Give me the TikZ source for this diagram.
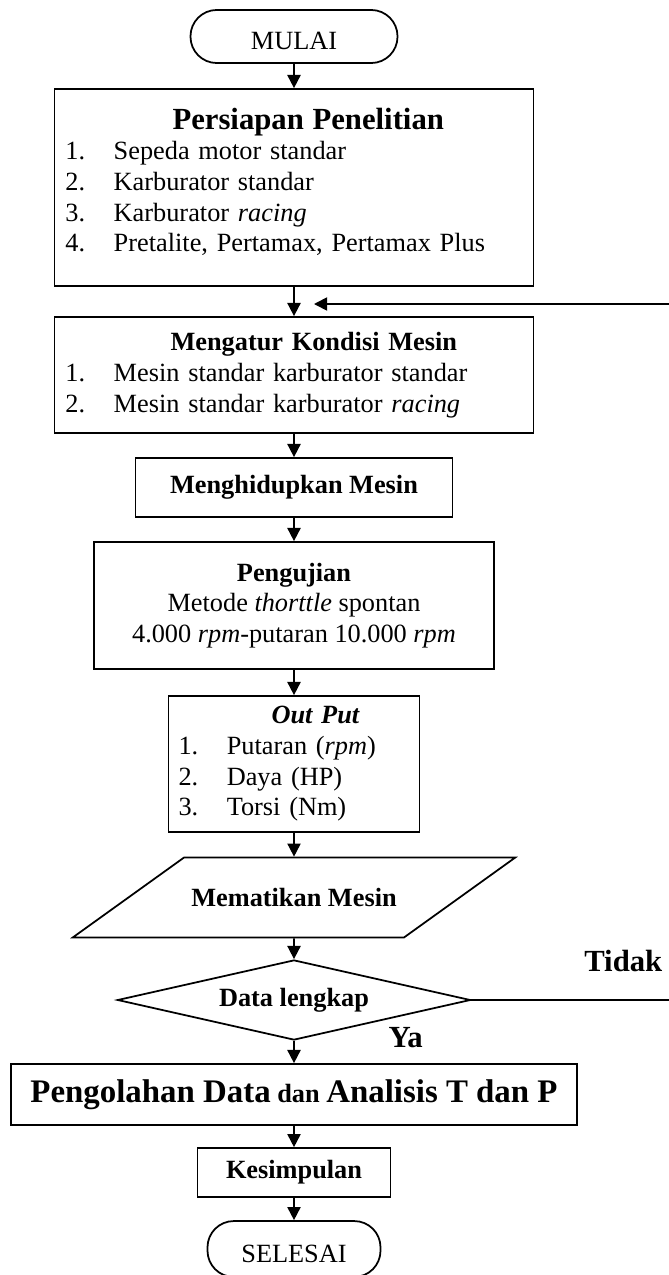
\documentclass[tikz,border=0pt]{standalone}
\usepackage{fontspec}
\setmainfont{Liberation Serif}
\usetikzlibrary{
    arrows.meta,
    shapes.geometric
}

\newcommand{\nomor}[1]{\makebox[22pt][l]{#1}}

\begin{document}
\begin{tikzpicture}[
        x=0.456pt,
        y=-0.456pt,
        font=\fontsize{12}{14}\selectfont,
        box/.style={
            rectangle,
            draw,
            line width=0.8pt,
            align=center
        },
        listbox/.style={
            rectangle,
            draw,
            line width=0.8pt,
            align=left
        },
        term/.style={
            rectangle,
            rounded corners=12pt,
            draw,
            line width=0.8pt,
            text height=12.3pt,
            text depth=0pt,
            minimum height=24.2pt
        },
        io/.style={
            trapezium,
            trapezium left angle=35.7,
            trapezium right angle=144.3,
            trapezium stretches body,
            inner ysep=14pt,
            draw,
            line width=0.8pt
        },
        decision/.style={
            diamond,
            aspect=4.4,
            inner sep=1pt,
            draw,
            line width=0.8pt
        },
        line/.style={
            -{Triangle[length=6pt, width=6pt]},
            line width=0.8pt
        },
        lbl/.style={
            font=\fontsize{14}{16}\selectfont\bfseries
        }
    ]

    \useasboundingbox (0,0) rectangle (668,1275);

    \node[term, minimum width=94.4pt] (mulai) at (294,36.5) {MULAI};

    \node[listbox, text width=208.4pt, inner xsep=5pt,
          minimum height=89.8pt] (persiapan) at (294,187.5)
        {\hspace*{48.8pt}{\fontsize{14}{16}\selectfont\bfseries Persiapan Penelitian}\\
         \nomor{1.}Sepeda motor standar\\
         \nomor{2.}Karburator standar\\
         \nomor{3.}Karburator \textit{racing}\\
         \nomor{4.}Pretalite, Pertamax, Pertamax Plus\rule[-7pt]{0pt}{0pt}};

    \node[listbox, text width=208.4pt, inner xsep=5pt,
          minimum height=52.9pt] (mengatur) at (294,375)
        {\hspace*{47.9pt}\textbf{Mengatur Kondisi Mesin}\\
         \nomor{1.}Mesin standar karburator standar\\
         \nomor{2.}Mesin standar karburator \textit{racing}};

    \node[box, minimum width=144.6pt, minimum height=26.9pt] (hidup) at (294,487.5)
        {\textbf{Menghidupkan Mesin}};

    \node[box, minimum width=182.4pt, minimum height=57.9pt] (uji) at (294,605.5)
        {\textbf{Pengujian}\\
         Metode \textit{thorttle} spontan\\
         4.000 \textit{rpm}-putaran 10.000 \textit{rpm}};

    \node[listbox, text width=105.3pt, inner xsep=4.6pt,
          minimum height=62pt] (output) at (294,764)
        {\hspace*{42.4pt}\textbf{\textit{Out Put}}\\
         \nomor{1.}Putaran (\textit{rpm})\\
         \nomor{2.}Daya (HP)\\
         \nomor{3.}Torsi (Nm)};

    \node[io, minimum width=199.7pt, minimum height=36pt] (mati) at (294,897.5)
        {\textbf{Mematikan Mesin}};

    \node[decision, minimum width=161pt, minimum height=36.5pt] (cek) at (294,1000)
        {\textbf{Data lengkap}};

    \node[box, minimum width=258.1pt, minimum height=27.8pt] (olah) at (294,1094.5)
        {\bfseries{\fontsize{15}{17}\selectfont Pengolahan Data} dan
         {\fontsize{15}{17}\selectfont Analisis T dan P}};

    \node[box, minimum width=88pt, minimum height=22.3pt] (simpul) at (294,1172.5)
        {\textbf{Kesimpulan}};

    \node[term, minimum width=78.9pt, minimum height=25.5pt] (selesai) at (294,1249)
        {SELESAI};

    % jalur utama
    \draw[line] (mulai) -- (persiapan);
    \draw[line] (persiapan) -- (mengatur);
    \draw[line] (mengatur) -- (hidup);
    \draw[line] (hidup) -- (uji);
    \draw[line] (uji) -- (output);
    \draw[line] (output) -- (mati);
    \draw[line] (mati) -- (cek);
    \draw[line] (cek) -- (olah);
    \draw[line] (olah) -- (simpul);
    \draw[line] (simpul) -- (selesai);

    \node[lbl, anchor=base west] (ya) at ([xshift=39.6pt, yshift=-3.2pt]cek.south) {Ya};

    % kembali jika data belum lengkap
    \coordinate (pojok) at (672,304);
    \coordinate (balik) at (314,304);
    \draw[line]
        (cek.east)
        --
        node[lbl, pos=0.757, above=9pt] (tidak) {Tidak}
        (cek.east -| pojok)
        --
        (pojok)
        --
        (balik);

\end{tikzpicture}
\end{document}
